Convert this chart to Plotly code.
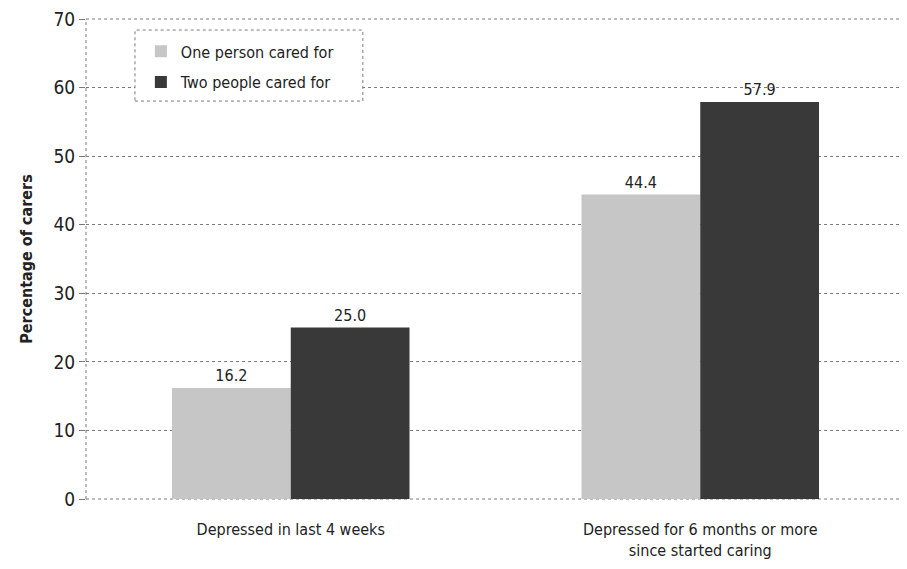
import plotly.graph_objects as go

categories = ["Depressed in last 4 weeks", "Depressed for 6 months or more<br>since started caring"]
one_person = [16.2, 44.4]
two_people = [25.0, 57.9]
series_names = ["One person cared for", "Two people cared for"]
y_ticks = [0, 10, 20, 30, 40, 50, 60, 70]

FONT = "DejaVu Sans Condensed, Roboto, sans-serif"
GRID = "#7a7a7a"

fig = go.Figure()
fig.add_trace(go.Bar(
    x=categories, y=one_person, name=series_names[0], legendgroup="a",
    marker=dict(color="#c6c6c6", line=dict(width=0)),
    text=[f"{v:.1f}" for v in one_person], textposition="outside",
    textfont=dict(size=16, color="#222"), cliponaxis=False,
))
fig.add_trace(go.Bar(
    x=categories, y=two_people, name=series_names[1], legendgroup="b",
    marker=dict(color="#393939", line=dict(width=0)),
    text=[f"{v:.1f}" for v in two_people], textposition="outside",
    textfont=dict(size=16, color="#222"), cliponaxis=False,
))

# legend frame (dotted, as in the original)
fig.add_shape(type="rect", xref="paper", yref="paper",
              x0=0.0598, x1=0.338, y0=0.829, y1=0.977,
              fillcolor="white", line=dict(color=GRID, width=1, dash="dot"),
              layer="above")
# dotted frame lines: y-axis line, baseline and top line
for (x0, x1, y0, y1) in [(0, 0, 0, 1), (0, 1, 0, 0), (0, 1, 1, 1)]:
    fig.add_shape(type="line", xref="paper", yref="paper",
                  x0=x0, x1=x1, y0=y0, y1=y1,
                  line=dict(color=GRID, width=1, dash="dot"), layer="below")

# page body has an 8px margin, so figure is sized/offset accordingly
fig.update_layout(
    width=899, height=561,
    margin=dict(l=78, r=2, t=11, b=70, autoexpand=False),
    paper_bgcolor="white", plot_bgcolor="white",
    font=dict(family=FONT, color="#222", size=15),
    barmode="group", bargap=0.42, bargroupgap=0,
    showlegend=True,
    legend=dict(
        x=0.067, y=0.968, xanchor="left", yanchor="top",
        bgcolor="rgba(0,0,0,0)", borderwidth=0,
        font=dict(size=16, family=FONT),
        tracegroupgap=7,
    ),
    xaxis=dict(
        showline=False, showgrid=False, automargin=False,
        ticks="outside", ticklen=16, tickcolor="rgba(0,0,0,0)",
        tickfont=dict(size=16, family=FONT),
    ),
    yaxis=dict(
        range=[0, 70], tickvals=y_ticks, automargin=False,
        showgrid=True, gridcolor=GRID, griddash="dot", gridwidth=1,
        showline=False, zeroline=False,
        ticks="outside", ticklen=6, tickcolor=GRID,
        ticklabeloverflow="allow",
        tickfont=dict(size=19, family=FONT),
        title=dict(text="<b>Percentage of carers</b>", font=dict(size=16, family=FONT), standoff=16),
    ),
)

fig.write_html("out.html")
